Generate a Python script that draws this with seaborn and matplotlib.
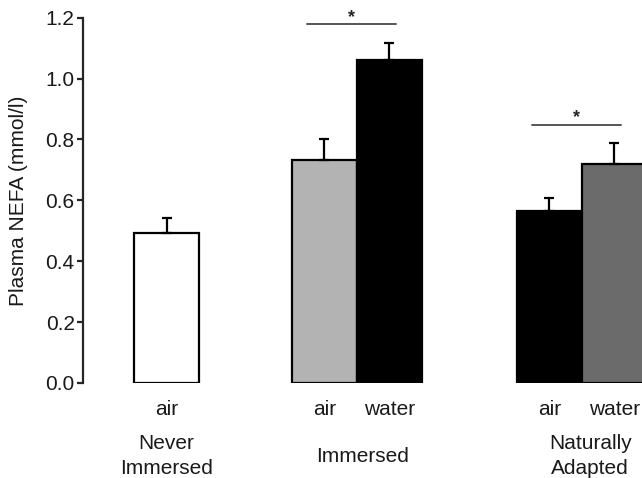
import matplotlib
matplotlib.use("Agg")
import matplotlib.pyplot as plt
import numpy as np
import pandas as pd
import seaborn as sns

# Plasma NEFA by group and breathing condition
bar_pos = [0.0, 2.43, 3.43, 5.89, 6.89]
conditions = ["air", "air", "water", "air", "water"]
nefa = [0.493, 0.733, 1.062, 0.566, 0.720]
sem = [0.050, 0.067, 0.056, 0.042, 0.069]
bar_colors = ["#ffffff", "#b3b3b3", "#000000", "#000000", "#6b6b6b"]

group_labels = ["Never\nImmersed", "Immersed", "Naturally\nAdapted"]
group_centers = [0.0, 3.02, 6.52]

# significance brackets: (x start, x end, height)
sig_lines = [(2.16, 3.53, 1.178), (5.62, 6.99, 0.849)]

y_ticks = [0.0, 0.2, 0.4, 0.6, 0.8, 1.0, 1.2]

sns.set_style("ticks")
plt.rcParams["font.family"] = ["Liberation Sans", "DejaVu Sans"]

df = pd.DataFrame({"pos": bar_pos, "nefa": nefa,
                   "bar": [f"b{i}" for i in range(len(bar_pos))]})
palette = dict(zip(df["bar"], bar_colors))

fig = plt.figure(figsize=(6.42, 4.78), dpi=100)
ax = fig.add_axes([83 / 642, 1 - 383 / 478, 1 - 83 / 642, (383 - 17.7) / 478])

sns.barplot(data=df, x="pos", y="nefa", hue="bar", palette=palette,
            native_scale=True, width=1.0, errorbar=None, legend=False,
            edgecolor="black", linewidth=1.6, saturation=1, ax=ax)

ax.errorbar(bar_pos, nefa, yerr=[np.zeros(len(sem)), sem], fmt="none",
            ecolor="black", elinewidth=1.6, capsize=3.8, capthick=1.6, zorder=1)

ax.set_xlim(-1.285, 7.315)
ax.set_ylim(0, 1.2)
ax.set_yticks(y_ticks, [f"{t:.1f}" for t in y_ticks])
ax.set_xticks(bar_pos, conditions)
ax.tick_params(axis="x", length=0, pad=12, labelsize=15, labelcolor="#1a1a1a")
ax.tick_params(axis="y", length=4, width=1.6, pad=2, labelsize=15,
               direction="out", labelcolor="#1a1a1a")

for side in ["top", "right", "bottom"]:
    ax.spines[side].set_visible(False)
ax.spines["left"].set_linewidth(1.6)

ax.set_xlabel("")
ax.set_ylabel("Plasma NEFA (mmol/l)", fontsize=15, color="#1a1a1a")
ax.yaxis.set_label_coords(-0.099, 0.5)

for label, cx in zip(group_labels, group_centers):
    ax.text(cx, -0.2, label, transform=ax.get_xaxis_transform(),
            ha="center", va="center", multialignment="center",
            fontsize=15, linespacing=1.43, color="#1a1a1a")

for x0, x1, y in sig_lines:
    ax.plot([x0, x1], [y, y], color="#555555", lw=1.4, clip_on=False)
    ax.text((x0 + x1) / 2, y + 0.008, "*", ha="center", va="baseline",
            fontsize=13, fontweight="bold", clip_on=False)

fig.savefig("out.png", dpi=100)
